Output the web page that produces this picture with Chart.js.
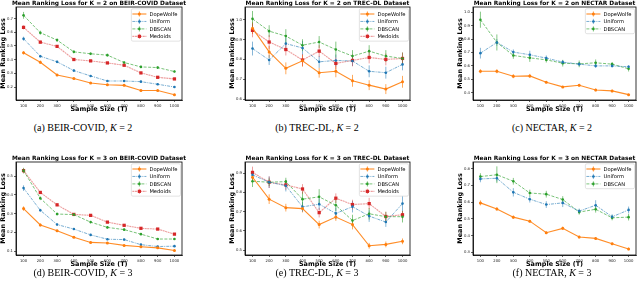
<!DOCTYPE html>
<html>
<head>
<meta charset="utf-8">
<title>Mean Ranking Loss vs Sample Size</title>
<script src="https://cdn.jsdelivr.net/npm/chart.js"></script>
<style>
    body { margin: 0; background: #fff; width: 640px; height: 289px; position: relative; overflow: hidden; }
    canvas { position: absolute; }
    .cap { position: absolute; font-family: "Liberation Serif", "DejaVu Serif", serif; font-size: 10px;
           white-space: nowrap; transform: translate(-50%, -50%); color: #000; }
</style>
</head>
<body>
<script>
    const sampleSizes = [100, 200, 300, 400, 500, 600, 700, 800, 900, 1000];
    const seriesNames = ['DopeWolfe', 'Uniform', 'DBSCAN', 'Medoids'];

    // (a) BEIR-COVID, K = 2
    const aDope = [0.450, 0.381, 0.288, 0.262, 0.229, 0.217, 0.212, 0.175, 0.175, 0.144];
    const aUni  = [0.553, 0.425, 0.384, 0.320, 0.281, 0.244, 0.244, 0.239, 0.220, 0.200];
    const aDbs  = [0.724, 0.597, 0.543, 0.457, 0.443, 0.433, 0.379, 0.347, 0.342, 0.313];
    const aMed  = [0.636, 0.528, 0.497, 0.401, 0.391, 0.376, 0.359, 0.303, 0.271, 0.259];
    const aDopeErr = [0.012, 0.012, 0.008, 0.006, 0.006, 0.006, 0.006, 0.006, 0.006, 0.006];
    const aUniErr  = [0.015, 0.010, 0.008, 0.008, 0.006, 0.006, 0.006, 0.006, 0.006, 0.006];
    const aDbsErr  = [0.025, 0.015, 0.012, 0.010, 0.010, 0.010, 0.008, 0.008, 0.010, 0.008];
    const aMedErr  = [0.015, 0.012, 0.010, 0.010, 0.008, 0.008, 0.008, 0.008, 0.008, 0.008];
    const aTicks = [0.2, 0.3, 0.4, 0.5, 0.6, 0.7];

    // (b) TREC-DL, K = 2
    const bDope = [0.958, 0.838, 0.755, 0.793, 0.733, 0.740, 0.692, 0.670, 0.650, 0.687];
    const bUni  = [0.855, 0.797, 0.880, 0.858, 0.788, 0.795, 0.792, 0.740, 0.733, 0.775];
    const bDbs  = [1.005, 0.943, 0.918, 0.872, 0.888, 0.850, 0.817, 0.842, 0.817, 0.805];
    const bMed  = [0.947, 0.888, 0.850, 0.797, 0.842, 0.780, 0.795, 0.810, 0.800, 0.805];
    const bDopeErr = [0.030, 0.030, 0.030, 0.030, 0.025, 0.030, 0.030, 0.025, 0.025, 0.030];
    const bUniErr  = [0.035, 0.025, 0.030, 0.035, 0.030, 0.030, 0.025, 0.030, 0.030, 0.030];
    const bDbsErr  = [0.040, 0.030, 0.035, 0.030, 0.030, 0.040, 0.030, 0.030, 0.030, 0.030];
    const bMedErr  = [0.035, 0.035, 0.030, 0.030, 0.030, 0.030, 0.030, 0.030, 0.030, 0.030];
    const bTicks = [0.6, 0.7, 0.8, 0.9, 1.0];

    // (c) NECTAR, K = 2
    const cDope = [0.560, 0.560, 0.523, 0.525, 0.478, 0.443, 0.455, 0.420, 0.413, 0.385];
    const cUni  = [0.695, 0.775, 0.703, 0.683, 0.658, 0.628, 0.613, 0.600, 0.600, 0.593];
    const cDbs  = [0.945, 0.775, 0.678, 0.660, 0.645, 0.620, 0.615, 0.623, 0.613, 0.578];
    const cDopeErr = [0.015, 0.015, 0.015, 0.015, 0.008, 0.008, 0.010, 0.010, 0.010, 0.006];
    const cUniErr  = [0.040, 0.025, 0.020, 0.030, 0.020, 0.015, 0.015, 0.015, 0.012, 0.012];
    const cDbsErr  = [0.060, 0.060, 0.025, 0.030, 0.020, 0.025, 0.025, 0.025, 0.015, 0.020];
    const cTicks = [0.4, 0.5, 0.6, 0.7, 0.8, 0.9, 1.0];

    // (d) BEIR-COVID, K = 3
    const dDope = [0.327, 0.240, 0.209, 0.175, 0.147, 0.144, 0.131, 0.124, 0.118, 0.104];
    const dUni  = [0.436, 0.318, 0.242, 0.218, 0.187, 0.164, 0.162, 0.135, 0.125, 0.127];
    const dDbs  = [0.529, 0.382, 0.298, 0.295, 0.255, 0.227, 0.215, 0.191, 0.165, 0.165];
    const dMed  = [0.529, 0.413, 0.347, 0.296, 0.291, 0.255, 0.238, 0.222, 0.218, 0.191];
    const dDopeErr = [0.012, 0.008, 0.006, 0.005, 0.005, 0.005, 0.004, 0.004, 0.004, 0.004];
    const dUniErr  = [0.015, 0.008, 0.006, 0.005, 0.005, 0.005, 0.004, 0.004, 0.004, 0.004];
    const dDbsErr  = [0.015, 0.010, 0.008, 0.008, 0.006, 0.006, 0.006, 0.005, 0.005, 0.005];
    const dMedErr  = [0.012, 0.008, 0.008, 0.006, 0.006, 0.006, 0.006, 0.005, 0.005, 0.005];
    const dTicks = [0.1, 0.2, 0.3, 0.4, 0.5];

    // (e) TREC-DL, K = 3
    const eDope = [0.879, 0.765, 0.721, 0.716, 0.633, 0.672, 0.633, 0.523, 0.530, 0.546];
    const eUni  = [0.891, 0.853, 0.835, 0.725, 0.739, 0.691, 0.726, 0.677, 0.646, 0.742];
    const eDbs  = [0.858, 0.853, 0.856, 0.765, 0.777, 0.733, 0.654, 0.689, 0.674, 0.674];
    const eMed  = [0.904, 0.853, 0.839, 0.818, 0.695, 0.770, 0.737, 0.742, 0.675, 0.684];
    const eDopeErr = [0.020, 0.025, 0.020, 0.020, 0.020, 0.020, 0.025, 0.015, 0.015, 0.015];
    const eUniErr  = [0.020, 0.030, 0.030, 0.025, 0.030, 0.030, 0.030, 0.030, 0.025, 0.040];
    const eDbsErr  = [0.030, 0.020, 0.020, 0.040, 0.040, 0.030, 0.030, 0.030, 0.025, 0.030];
    const eMedErr  = [0.030, 0.030, 0.025, 0.025, 0.025, 0.025, 0.025, 0.030, 0.025, 0.020];
    const eTicks = [0.5, 0.6, 0.7, 0.8, 0.9];

    // (f) NECTAR, K = 3
    const fDope = [0.595, 0.559, 0.510, 0.486, 0.417, 0.443, 0.391, 0.383, 0.351, 0.320];
    const fUni  = [0.738, 0.742, 0.658, 0.617, 0.585, 0.595, 0.546, 0.581, 0.512, 0.553];
    const fDbs  = [0.752, 0.763, 0.724, 0.654, 0.647, 0.615, 0.540, 0.557, 0.506, 0.510];
    const fDopeErr = [0.015, 0.010, 0.010, 0.008, 0.008, 0.010, 0.008, 0.008, 0.008, 0.008];
    const fUniErr  = [0.020, 0.020, 0.025, 0.020, 0.020, 0.025, 0.015, 0.030, 0.015, 0.020];
    const fDbsErr  = [0.020, 0.050, 0.020, 0.020, 0.020, 0.020, 0.015, 0.020, 0.015, 0.020];
    const fTicks = [0.3, 0.4, 0.5, 0.6, 0.7, 0.8];

    const styles = [
        { line: 'rgba(255,127,14,0.9)', err: 'rgba(255,127,14,0.75)', dash: [], width: 1.1, point: 'circle', r: 1.5, fill: '#ff7f0e' },
        { line: 'rgba(31,119,180,0.75)', err: 'rgba(31,119,180,0.6)', dash: [3, 1, 1, 1], width: 0.8, point: 'circle', r: 1.3, fill: '#1f77b4' },
        { line: 'rgba(44,160,44,0.8)', err: 'rgba(44,160,44,0.65)', dash: [3, 1.5], width: 0.8, point: 'circle', r: 1.3, fill: '#2ca02c' },
        { line: 'rgba(214,39,40,0.45)', err: 'rgba(214,39,40,0.5)', dash: [2, 0.6], width: 1.1, point: 'rect', r: 2.3, fill: '#d62728' }
    ];

    const panels = [
        { title: 'Mean Ranking Loss for K = 2 on BEIR-COVID Dataset', left: 0, top: 0, width: 186, padRight: 4,
          series: [[aDope, aDopeErr], [aUni, aUniErr], [aDbs, aDbsErr], [aMed, aMedErr]], ticks: aTicks, min: 0.105, max: 0.785,
          cap: '(a) BEIR-COVID, <i>K</i> = 2', capX: 83, capY: 127 },
        { title: 'Mean Ranking Loss for K = 2 on TREC-DL Dataset', left: 229, top: 0, width: 185, padRight: 4,
          series: [[bDope, bDopeErr], [bUni, bUniErr], [bDbs, bDbsErr], [bMed, bMedErr]], ticks: bTicks, min: 0.595, max: 1.065,
          cap: '(b) TREC-DL, <i>K</i> = 2', capX: 317, capY: 127 },
        { title: 'Mean Ranking Loss for K = 2 on NECTAR Dataset', left: 457, top: 0, width: 183, padRight: 2,
          series: [[cDope, cDopeErr], [cUni, cUniErr], [cDbs, cDbsErr]], ticks: cTicks, min: 0.345, max: 1.04,
          cap: '(c) NECTAR, <i>K</i> = 2', capX: 552, capY: 127 },
        { title: 'Mean Ranking Loss for K = 3 on BEIR-COVID Dataset', left: 0, top: 155, width: 186, padRight: 4,
          series: [[dDope, dDopeErr], [dUni, dUniErr], [dDbs, dDbsErr], [dMed, dMedErr]], ticks: dTicks, min: 0.08, max: 0.575,
          cap: '(d) BEIR-COVID, <i>K</i> = 3', capX: 83, capY: 272 },
        { title: 'Mean Ranking Loss for K = 3 on TREC-DL Dataset', left: 229, top: 155, width: 185, padRight: 4,
          series: [[eDope, eDopeErr], [eUni, eUniErr], [eDbs, eDbsErr], [eMed, eMedErr]], ticks: eTicks, min: 0.475, max: 0.958,
          cap: '(e) TREC-DL, <i>K</i> = 3', capX: 317, capY: 272 },
        { title: 'Mean Ranking Loss for K = 3 on NECTAR Dataset', left: 457, top: 155, width: 183, padRight: 2,
          series: [[fDope, fDopeErr], [fUni, fUniErr], [fDbs, fDbsErr]], ticks: fTicks, min: 0.284, max: 0.839,
          cap: '(f) NECTAR, <i>K</i> = 3', capX: 552, capY: 272 }
    ];

    // error bars, frame, title and the boxed legend inside the plot
    const decor = {
        id: 'decor',
        beforeDatasetsDraw(chart) {
            const { ctx, scales: { x, y } } = chart;
            ctx.save();
            chart.data.datasets.forEach(ds => {
                ctx.strokeStyle = ds.errColor;
                ctx.lineWidth = 0.9;
                ds.data.forEach((p, j) => {
                    const px = x.getPixelForValue(p.x);
                    ctx.beginPath();
                    ctx.moveTo(px, y.getPixelForValue(p.y - ds.errs[j]));
                    ctx.lineTo(px, y.getPixelForValue(p.y + ds.errs[j]));
                    ctx.stroke();
                });
            });
            ctx.restore();
        },
        afterDraw(chart, args, opts) {
            const { ctx, chartArea: a } = chart;
            ctx.save();
            ctx.strokeStyle = '#000';
            ctx.lineWidth = 0.8;
            ctx.strokeRect(a.left, a.top, a.right - a.left, a.bottom - a.top);

            ctx.fillStyle = '#000';
            ctx.font = 'bold 5.9px "DejaVu Sans"';
            ctx.textAlign = 'center';
            ctx.textBaseline = 'middle';
            ctx.fillText(opts.title, (a.left + a.right) / 2, a.top - 3.6);

            const sets = chart.data.datasets;
            ctx.font = '5.2px "DejaVu Sans"';
            const tw = Math.max(...sets.map(d => ctx.measureText(d.label).width));
            const rowH = 7.45, handle = 14;
            const w = 1 + handle + 3 + tw + 3;
            const h = 10 + (sets.length - 1) * rowH;
            const bx = a.right - 1.5 - w, by = a.top + 1.8;
            ctx.beginPath();
            ctx.roundRect(bx, by, w, h, 1.5);
            ctx.fillStyle = 'rgba(255,255,255,0.8)';
            ctx.fill();
            ctx.strokeStyle = '#d0d0d0';
            ctx.lineWidth = 0.6;
            ctx.stroke();
            sets.forEach((d, i) => {
                const cy = by + 5.2 + i * rowH, hx = bx + 1, mx = hx + handle / 2;
                ctx.strokeStyle = d.borderColor;
                ctx.lineWidth = d.borderWidth;
                ctx.setLineDash(d.borderDash);
                ctx.beginPath(); ctx.moveTo(hx, cy); ctx.lineTo(hx + handle, cy); ctx.stroke();
                ctx.setLineDash([]);
                ctx.strokeStyle = d.errColor;
                ctx.lineWidth = 0.9;
                ctx.beginPath(); ctx.moveTo(mx, cy - 2.6); ctx.lineTo(mx, cy + 2.6); ctx.stroke();
                ctx.fillStyle = d.pointBackgroundColor;
                if (d.pointStyle === 'rect') ctx.fillRect(mx - 1.6, cy - 1.6, 3.2, 3.2);
                else { ctx.beginPath(); ctx.arc(mx, cy, d.pointRadius, 0, Math.PI * 2); ctx.fill(); }
                ctx.fillStyle = '#000';
                ctx.textAlign = 'left';
                ctx.fillText(d.label, hx + handle + 3, cy + 0.3);
            });
            ctx.restore();
        }
    };

    panels.forEach(p => {
        const cv = document.createElement('canvas');
        cv.width = p.width;
        cv.height = 114;
        cv.style.left = p.left + 'px';
        cv.style.top = p.top + 'px';
        document.body.appendChild(cv);

        const cap = document.createElement('div');
        cap.className = 'cap';
        cap.innerHTML = p.cap;
        cap.style.left = p.capX + 'px';
        cap.style.top = p.capY + 'px';
        document.body.appendChild(cap);

        const datasets = p.series.map((s, i) => ({
            label: seriesNames[i],
            data: sampleSizes.map((x, j) => ({ x: x, y: s[0][j] })),
            errs: s[1],
            errColor: styles[i].err,
            borderColor: styles[i].line,
            borderWidth: styles[i].width,
            borderDash: styles[i].dash,
            pointStyle: styles[i].point,
            pointRadius: styles[i].r,
            pointBackgroundColor: styles[i].fill,
            pointBorderColor: styles[i].fill,
            pointBorderWidth: 0,
            tension: 0,
            fill: false
        }));

        new Chart(cv, {
            type: 'line',
            data: { datasets: datasets },
            plugins: [decor],
            options: {
                responsive: false,
                animation: false,
                devicePixelRatio: 1,
                layout: { padding: { top: 7, right: p.padRight, left: 0, bottom: 0 } },
                plugins: {
                    legend: { display: false },
                    tooltip: { enabled: false },
                    decor: { title: p.title }
                },
                scales: {
                    x: {
                        type: 'linear', min: 55, max: 1045,
                        afterBuildTicks: s => { s.ticks = sampleSizes.map(v => ({ value: v })); },
                        afterFit: s => { s.height = 14; },
                        grid: { drawOnChartArea: false, tickLength: 2, color: '#000', lineWidth: 0.6 },
                        border: { color: '#000', width: 0.8 },
                        ticks: { font: { size: 3.8, family: 'DejaVu Sans' }, color: '#222', padding: 1.5,
                                 maxRotation: 0, autoSkip: false, callback: v => String(v) },
                        title: { display: true, text: 'Sample Size (T)', color: '#000',
                                 font: { size: 6.5, weight: 'bold', family: 'DejaVu Sans', lineHeight: 1 },
                                 padding: { top: 0, bottom: 1.8 } }
                    },
                    y: {
                        min: p.min, max: p.max,
                        afterBuildTicks: s => { s.ticks = p.ticks.map(v => ({ value: v })); },
                        afterFit: s => { s.width = 16; },
                        grid: { drawOnChartArea: false, tickLength: 2, color: '#000', lineWidth: 0.6 },
                        border: { color: '#000', width: 0.8 },
                        ticks: { font: { size: 3.8, family: 'DejaVu Sans' }, color: '#222', padding: 1,
                                 callback: v => v.toFixed(1) },
                        title: { display: true, text: 'Mean Ranking Loss', color: '#000',
                                 font: { size: 6.5, weight: 'bold', family: 'DejaVu Sans', lineHeight: 1 },
                                 padding: { top: 0, bottom: 0 } }
                    }
                }
            }
        });
    });
</script>
</body>
</html>
